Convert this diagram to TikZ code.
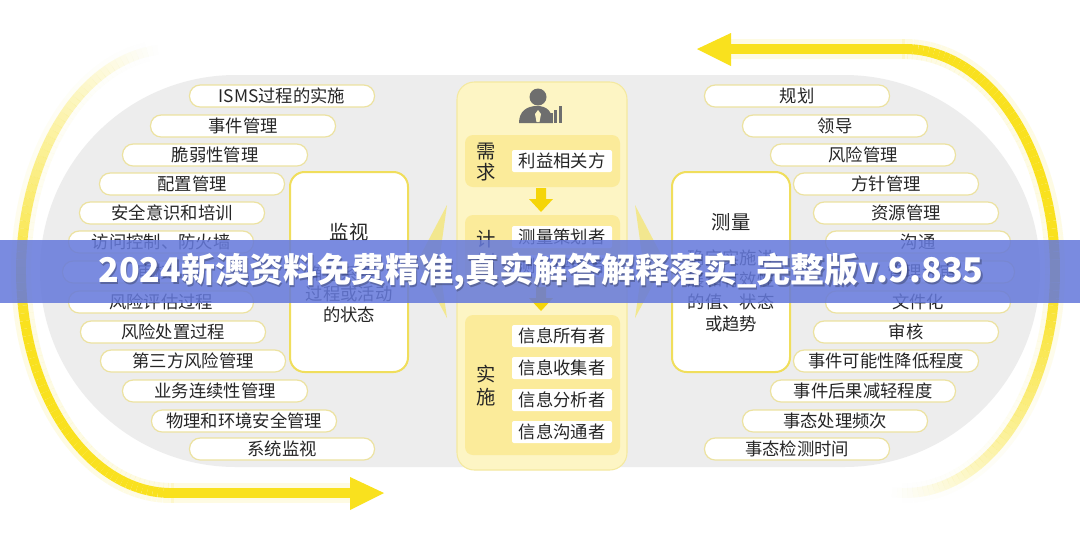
\documentclass[tikz,border=0pt]{standalone}
\usepackage{fontspec}
\setmainfont{Noto Sans CJK SC}
\definecolor{bggrey}{HTML}{EDEDED}
\definecolor{textgrey}{HTML}{262626}
\definecolor{pillborder}{HTML}{ECE2A0}
\definecolor{arcyellow}{HTML}{F9E11E}
\definecolor{centerfill}{HTML}{FDF5C4}
\definecolor{centerdraw}{HTML}{F4E9A0}
\definecolor{secfill}{HTML}{FBEB9A}
\definecolor{downyellow}{HTML}{F5D508}
\definecolor{boxdraw}{HTML}{F0DE5C}
\definecolor{icongrey}{HTML}{6E6E6E}
\definecolor{bannerblue}{HTML}{6579DB}
\begin{document}
\begin{tikzpicture}[x=0.75pt,y=-0.75pt,
  pill/.style={draw=pillborder, fill=white, line width=0.9pt, rounded corners=8pt,
    minimum width=138.75pt, minimum height=16.5pt, inner sep=0pt,
    font=\fontsize{13}{15}\selectfont, text=textgrey, text height=9.5pt, text depth=0pt},
  itembox/.style={fill=white, rounded corners=1.5pt, minimum width=75pt, minimum height=16.5pt,
    inner sep=0pt, font=\fontsize{13}{15}\selectfont, text=textgrey, text height=9.5pt, text depth=0pt},
  vlabel/.style={font=\fontsize{14.5}{16}\selectfont, text=textgrey, inner sep=0pt, text height=10.5pt, text depth=0pt},
  bigbox/.style={fill=white, draw=boxdraw, line width=1.5pt, rounded corners=11pt},
  boxtitle/.style={font=\fontsize{14.5}{16}\selectfont, text=textgrey, inner sep=0pt},
  boxtext/.style={font=\fontsize{13}{15.4}\selectfont, text=textgrey, inner sep=0pt, align=center},
  arcline/.style={draw=arcyellow, line width=7.5pt, line cap=butt},
  arcglow/.style={draw=arcyellow, line width=15pt, line cap=butt},
  secbox/.style={fill=secfill, rounded corners=6pt},
  glowtip/.style={fill=arcyellow, opacity=0.45},
  bannertext/.style={font=\fontsize{25.5}{28}\bfseries\selectfont, text=white, inner sep=0pt}
]
\useasboundingbox (0,0) rectangle (1080,544);
\fill[white] (0,0) rectangle (1080,544);
% grey stadium background
\fill[bggrey, rounded corners=147pt] (40,75) rectangle (1040,467);

% left yellow arc (fading in from the top)
\foreach \t in {95,97,...,269}{
  \pgfmathsetmacro\op{min(1,((\t-93)/100))^1.3}
  \pgfmathsetmacro\opg{0.12*\op}
  \draw[arcglow, draw opacity=\opg] ({171+150*cos(\t)},{271-222*sin(\t)}) -- ({171+150*cos(\t+2)},{271-222*sin(\t+2)});
  \draw[arcline, draw opacity=\op] ({171+150*cos(\t)},{271-222*sin(\t)}) -- ({171+150*cos(\t+2)},{271-222*sin(\t+2)});
}
\coordinate (lbend) at (171,493);
\coordinate (lhead) at (352,493);
\draw[arcglow, draw opacity=0.12] (lbend) -- (lhead);
\draw[arcline] (lbend) -- (lhead);
\fill[arcyellow] (350,477) -- (384,493) -- (350,510) -- cycle;

% right yellow arc (fading out towards the bottom)
\foreach \t in {-95,-93,...,89}{
  \pgfmathsetmacro\op{min(1,((\t+97)/95))^1.3}
  \pgfmathsetmacro\opg{0.12*\op}
  \draw[arcglow, draw opacity=\opg] ({905+150*cos(\t)},{271-222*sin(\t)}) -- ({905+150*cos(\t+2)},{271-222*sin(\t+2)});
  \draw[arcline, draw opacity=\op] ({905+150*cos(\t)},{271-222*sin(\t)}) -- ({905+150*cos(\t+2)},{271-222*sin(\t+2)});
}
\coordinate (rbend) at (905,49);
\coordinate (rhead) at (729,49);
\draw[arcglow, draw opacity=0.12] (rbend) -- (rhead);
\draw[arcline] (rbend) -- (rhead);
\fill[arcyellow] (731,33) -- (697,49) -- (731,66) -- cycle;

% glowing chevrons between boxes
\fill[glowtip] (447,205) -- (417,262) -- (447,318) -- (439,262) -- cycle;
\fill[glowtip] (635,205) -- (665,262) -- (635,318) -- (643,262) -- cycle;

% left column
\node[pill] (l1) at (282,96) {ISMS过程的实施};
\node[pill] (l2) at (243,126) {事件管理};
\node[pill] (l3) at (215,155) {脆弱性管理};
\node[pill] (l4) at (192,184) {配置管理};
\node[pill] (l5) at (172,213) {安全意识和培训};
\node[pill] (l6) at (161,242) {访问控制、防火墙};
\node[pill] (l7) at (155,272) {审核};
\node[pill] (l8) at (161,302) {风险评估过程};
\node[pill] (l9) at (173,332) {风险处置过程};
\node[pill] (l10) at (193,361) {第三方风险管理};
\node[pill] (l11) at (215,391) {业务连续性管理};
\node[pill] (l12) at (244,421) {物理和环境安全管理};
\node[pill] (l13) at (282,449) {系统监视};

% right column
\node[pill] (r1) at (797,96) {规划};
\node[pill] (r2) at (835,126) {领导};
\node[pill] (r3) at (863,155) {风险管理};
\node[pill] (r4) at (886,184) {方针管理};
\node[pill] (r5) at (906,213) {资源管理};
\node[pill] (r6) at (918,242) {沟通};
\node[pill] (r7) at (922,272) {管理评审};
\node[pill] (r8) at (918,302) {文件化};
\node[pill] (r9) at (906,332) {审核};
\node[pill] (r10) at (886,361) {事件可能性降低程度};
\node[pill] (r11) at (863,391) {事件后果减轻程度};
\node[pill] (r12) at (835,421) {事态处理频次};
\node[pill] (r13) at (797,449) {事态检测时间};

% monitor box
\draw[bigbox] (290,172) rectangle (408,372);
\node[boxtitle] (montitle) at (349,232) {监视};
\node[boxtext] (montext) at (349,294) {确定系统、\\过程或活动\\的状态};

% measurement box
\draw[bigbox] (672,172) rectangle (790,372);
\node[boxtitle] (meatitle) at (731,222) {测量};
\node[boxtext, font=\fontsize{13}{16.5}\selectfont] (meatext) at (731,291) {确定实施进\\展和有效性\\的值、状态\\或趋势};

% centre column
\draw[fill=centerfill, draw=centerdraw, line width=0.8pt, rounded corners=13pt] (457,82) rectangle (627,470);
% person icon
\fill[icongrey] (538,97) circle (8.5);
\fill[icongrey] (519,123) .. controls (519,111) and (527,106) .. (537,106) .. controls (547,106) and (552,111) .. (553,123) -- cycle;
\fill[centerfill] (538,110) -- (541,114) -- (539.5,122) -- (536.5,122) -- (535,114) -- cycle;
\fill[icongrey] (545,116) rectangle (548,123);
\fill[icongrey] (549.5,113) rectangle (552.5,123);
\fill[icongrey] (554,110) rectangle (557,123);
\fill[icongrey] (558.5,106) rectangle (561.5,123);

% sections
\fill[secbox] (465,135) rectangle (620,187);
\fill[secbox] (465,215) rectangle (620,285);
\fill[secbox] (465,315) rectangle (620,455);

\node[vlabel] (req1) at (486,151) {需};
\node[vlabel] (req2) at (486,172) {求};
\node[vlabel] (plan1) at (486,239) {计};
\node[vlabel] (plan2) at (486,262) {划};
\node[vlabel] (imp1) at (486,374) {实};
\node[vlabel] (imp2) at (486,397) {施};

\node[itembox] (c1) at (562,161) {利益相关方};
\node[itembox] (c2) at (562,237) {测量策划者};
\node[itembox] (c3) at (562,266) {测量评审者};
\node[itembox] (c4) at (562,336) {信息所有者};
\node[itembox] (c5) at (562,368) {信息收集者};
\node[itembox] (c6) at (562,400) {信息分析者};
\node[itembox] (c7) at (562,432) {信息沟通者};

% down arrows
\fill[downyellow] (536,188) -- (546,188) -- (546,199) -- (553,199) -- (541,212) -- (529,199) -- (536,199) -- cycle;
\fill[downyellow] (536,287) -- (546,287) -- (546,298) -- (553,298) -- (541,311) -- (529,298) -- (536,298) -- cycle;

% banner
\fill[bannerblue, opacity=0.86] (0,240) rectangle (1080,303);
\node[bannertext, text=black, opacity=0.25] at (542.5,274) {2024新澳资料免费精准,真实解答解释落实\_完整版v.9.835};
\node[bannertext] (ban) at (541,272) {2024新澳资料免费精准,真实解答解释落实\_完整版v.9.835};
\end{tikzpicture}
\end{document}
